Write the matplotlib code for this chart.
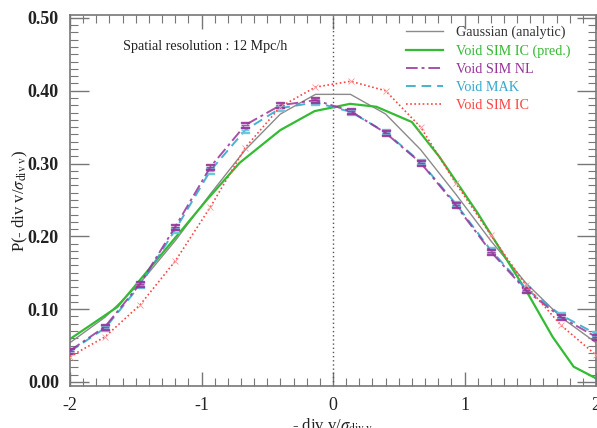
import numpy as np
import matplotlib
matplotlib.use("Agg")
import matplotlib.pyplot as plt
from matplotlib.ticker import MultipleLocator, FormatStrFormatter

plt.rcParams['font.family'] = ['Liberation Serif', 'DejaVu Serif']
plt.rcParams['mathtext.fontset'] = 'stix'

# bin centres
x_bins = np.linspace(-2, 2, 16)

gauss_vals = [0.054, 0.089, 0.136, 0.194, 0.258, 0.319, 0.368, 0.395,
              0.395, 0.368, 0.319, 0.258, 0.194, 0.136, 0.089, 0.054]

nl_vals = [0.043, 0.076, 0.135, 0.213, 0.295, 0.353, 0.380, 0.387,
           0.372, 0.342, 0.301, 0.243, 0.179, 0.126, 0.089, 0.062]

mak_vals = [0.042, 0.074, 0.133, 0.209, 0.290, 0.346, 0.376, 0.384,
            0.371, 0.343, 0.302, 0.245, 0.181, 0.128, 0.092, 0.066]

ic_vals = [0.035, 0.062, 0.106, 0.166, 0.240, 0.322, 0.378, 0.405,
           0.413, 0.400, 0.350, 0.273, 0.202, 0.133, 0.078, 0.037]

pred_x = [-2.0, -1.64, -1.32, -0.96, -0.71, -0.40, -0.14, 0.13, 0.33,
          0.60, 0.81, 1.10, 1.48, 1.67, 1.83, 2.0]
pred_vals = [0.059, 0.103, 0.172, 0.250, 0.301, 0.346, 0.372, 0.382, 0.378,
             0.357, 0.309, 0.232, 0.122, 0.062, 0.021, 0.005]

fig = plt.figure(figsize=(5.97, 4.28), dpi=100)
ax = fig.add_axes([70/597, 1-386/428, 526/597, (386-15)/428])

ax.axvline(0, color='#555555', lw=1.0, ls=(0, (1, 2)))

ax.plot(x_bins, gauss_vals, color='#8a8a8a', lw=1.0, label='Gaussian (analytic)')
ax.plot(pred_x, pred_vals, color='#33bb33', lw=1.6, label='Void SIM IC (pred.)')
ax.plot(x_bins, mak_vals, color='#33aacc', lw=1.4, ls=(0, (5, 3)),
        marker='$\u2261$', ms=6, mec='#66c8e0', alpha=0.9, label='Void MAK', zorder=3)
ax.plot(x_bins, nl_vals, color='#993399', lw=1.4, ls=(0, (6, 2, 1.5, 2)),
        marker='$\u2261$', ms=6, mec='#993399', alpha=0.85, label='Void SIM NL', zorder=4)
ax.plot(x_bins, ic_vals, color='#ff4444', lw=1.2, ls=(0, (1, 1.5)),
        marker='x', ms=4, mew=0.6, mec='#ff9999', label='Void SIM IC', zorder=5)

ax.set_xlim(-2, 2)
ax.set_ylim(-0.0055, 0.504)

ax.xaxis.set_major_locator(MultipleLocator(1))
ax.xaxis.set_minor_locator(MultipleLocator(0.1))
ax.yaxis.set_major_locator(MultipleLocator(0.1))
ax.yaxis.set_minor_locator(MultipleLocator(0.01))
ax.yaxis.set_major_formatter(FormatStrFormatter('%.2f'))
ax.xaxis.set_major_formatter(plt.FuncFormatter(lambda v, p: '%d' % round(v)))

for s in ax.spines.values():
    s.set_color('#777777')
    s.set_linewidth(1.2)
ax.tick_params(which='both', direction='in', top=True, right=True,
               color='#777777', labelcolor='#222222')
ax.tick_params(which='major', length=14, width=1.0, labelsize=13, pad=8)
ax.tick_params(which='minor', length=6, width=0.8)
ax.tick_params(axis='x', which='major', length=10)
for lab in ax.get_yticklabels():
    lab.set_fontweight('bold')

ax.set_xlabel(r'- div v/$\sigma_{\mathrm{div\ v}}$', fontsize=12, color='#222222',
              labelpad=2)
ax.set_ylabel(r'P(- div v/$\sigma_{\mathrm{div\ v}}$)', fontsize=12, color='#222222')
ax.yaxis.set_label_coords(-0.076, 0.5)

ax.text(-1.6, 0.456, 'Spatial resolution : 12 Mpc/h', fontsize=10.2,
        color='#222222')

handles, labels = ax.get_legend_handles_labels()
order = [0, 1, 3, 2, 4]
leg = ax.legend([handles[i] for i in order], [labels[i] for i in order],
                loc='upper right', frameon=False, fontsize=10.2,
                handlelength=2.6, handletextpad=0.9, labelspacing=0.35,
                borderaxespad=0.1, bbox_to_anchor=(0.965, 0.99))
colors = ['#333333', '#33bb33', '#993399', '#33aacc', '#ff4444']
for t, c in zip(leg.get_texts(), colors):
    t.set_color(c)
for h in leg.legend_handles:
    h.set_marker('')

fig.savefig('out.png', dpi=100)
